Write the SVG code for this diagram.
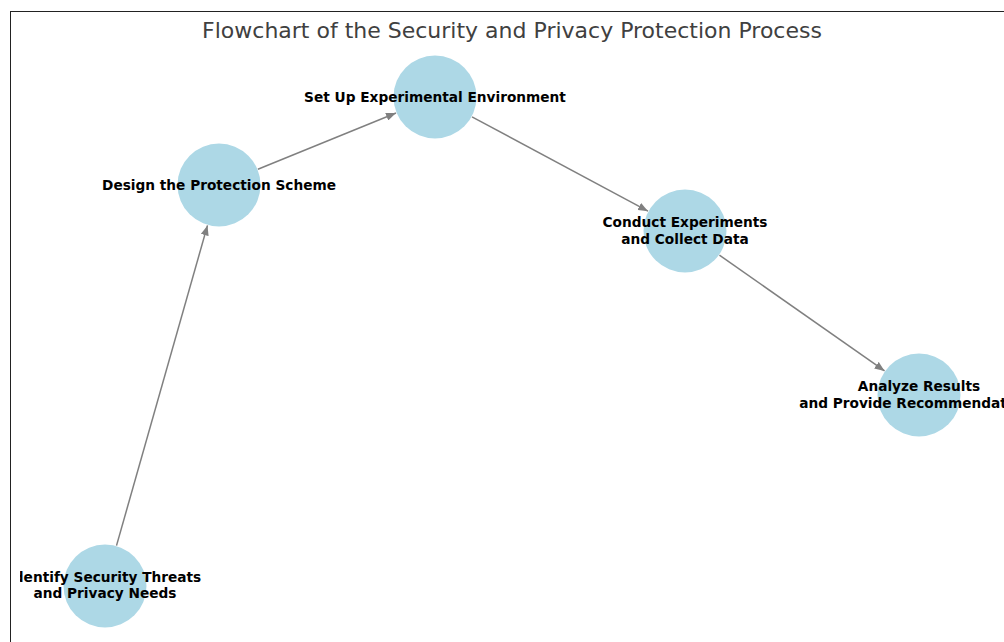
<svg xmlns="http://www.w3.org/2000/svg" width="1004" height="642" viewBox="0 0 1004 642">
<style>
.node circle{fill:#ADD8E6;}
.node text{font-family:"DejaVu Sans",sans-serif;font-weight:bold;font-size:13.7px;fill:#000;text-anchor:middle;}
.edge{stroke:#808080;stroke-width:1.5;fill:none;marker-end:url(#arr);}
.title{font-family:"DejaVu Sans",sans-serif;font-size:22px;fill:#404040;text-anchor:middle;}
</style>
<defs>
<marker id="arr" viewBox="0 0 10 8" refX="10" refY="4" markerWidth="10" markerHeight="8" markerUnits="userSpaceOnUse" orient="auto">
<path d="M0,0 L10,4 L0,8 Z" fill="#808080"/>
</marker>
<clipPath id="ax"><rect x="20" y="11" width="1000" height="640"/></clipPath>
</defs>
<rect x="0" y="0" width="1004" height="642" fill="#fff"/>
<rect x="10.5" y="11.5" width="1000" height="640" fill="none" stroke="#222" stroke-width="1"/>
<text class="title" x="512" y="37.5">Flowchart of the Security and Privacy Protection Process</text>
<g id="edges">
<line class="edge" x1="116.5" y1="545.6" x2="207.5" y2="225.4"/>
<line class="edge" x1="257.9" y1="169.2" x2="396" y2="113"/>
<line class="edge" x1="472" y1="116.8" x2="648" y2="211.2"/>
<line class="edge" x1="719.4" y1="255.1" x2="884.6" y2="370.9"/>
</g>
<g clip-path="url(#ax)">
<g id="n1" class="node"><circle cx="105" cy="586" r="41.5"/><text x="105" y="582">Identify Security Threats</text><text x="105" y="598">and Privacy Needs</text></g>
<g id="n2" class="node"><circle cx="219" cy="185" r="41.5"/><text x="219" y="190">Design the Protection Scheme</text></g>
<g id="n3" class="node"><circle cx="435" cy="97" r="41.5"/><text x="435" y="102">Set Up Experimental Environment</text></g>
<g id="n4" class="node"><circle cx="685" cy="231" r="41.5"/><text x="685" y="227">Conduct Experiments</text><text x="685" y="244">and Collect Data</text></g>
<g id="n5" class="node"><circle cx="919" cy="395" r="41.5"/><text x="919" y="391">Analyze Results</text><text x="919" y="408">and Provide Recommendations</text></g>
</g>
</svg>
